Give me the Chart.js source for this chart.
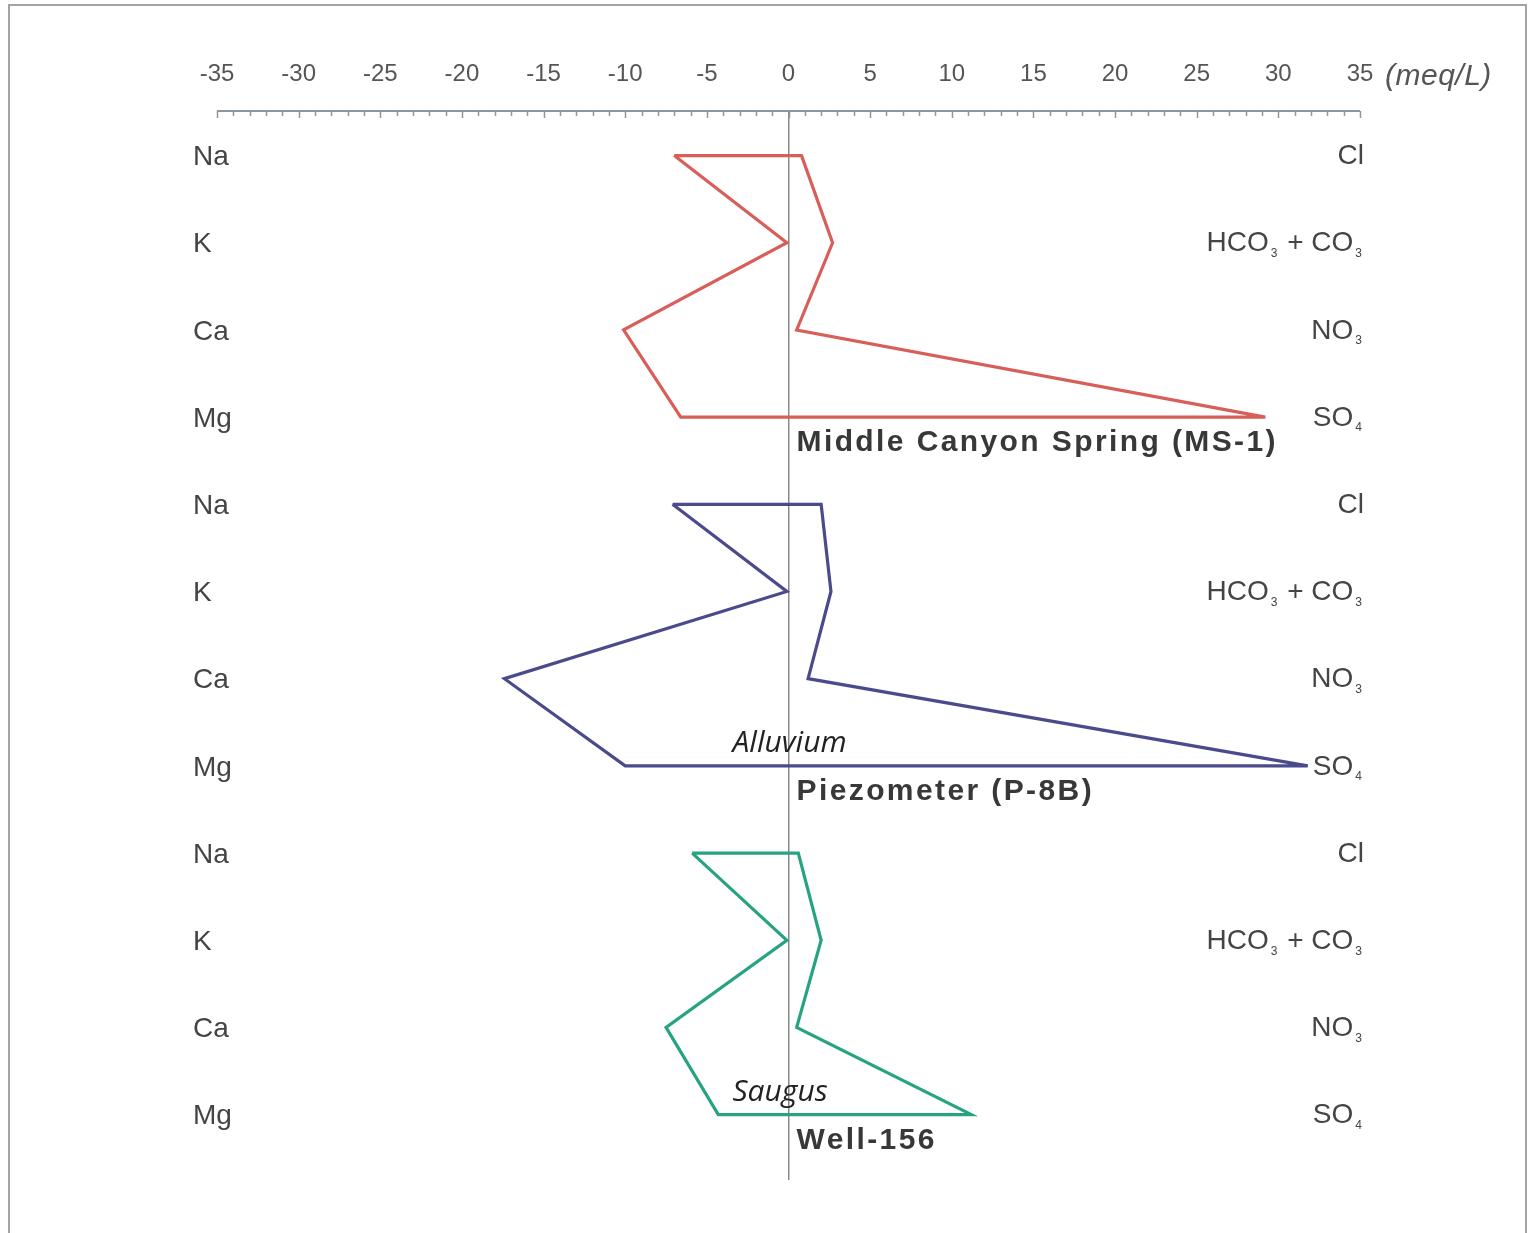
<!DOCTYPE html>
<html>
<head>
<meta charset="utf-8">
<script src="https://cdn.jsdelivr.net/npm/chart.js@4.4.0/dist/chart.umd.min.js"></script>
<style>
  html, body { margin: 0; padding: 0; background: #fff; }
</style>
</head>
<body>
<canvas id="stiffChart" width="1530" height="1233"></canvas>
<script>
// Stiff diagram data (meq/L)
const samples = ["Middle Canyon Spring (MS-1)", "Piezometer (P-8B)", "Well-156"];
const formations = ["", "Alluvium", "Saugus"];
const cations = ["Na", "K", "Ca", "Mg"];
const anions = ["Cl", "HCO3 + CO3", "NO3", "SO4"];

// cation values drawn to the left, anion values to the right
const cationValues = [
  [7.0, 0.1, 10.1, 6.6],
  [7.1, 0.1, 17.4, 10.0],
  [5.9, 0.1, 7.5, 4.3],
];
const anionValues = [
  [0.8, 2.7, 0.5, 29.2],
  [2.0, 2.6, 1.2, 31.8],
  [0.6, 2.0, 0.5, 11.2],
];

const xMin = -35, xMax = 35, majorStep = 5, minorStep = 1;
const unitLabel = "(meq/L)";
const colors = ["#d85e5a", "#4b4a8c", "#27a384"];

const FONT = "'Liberation Sans', Arial, sans-serif";

const datasets = samples.map((name, s) => {
  const base = s * cations.length;
  const pts = [];
  cations.forEach((c, i) => pts.push({ x: -cationValues[s][i], y: base + i }));
  for (let i = anions.length - 1; i >= 0; i--) {
    pts.push({ x: anionValues[s][i], y: base + i });
  }
  pts.push(pts[0]); // close polygon
  return {
    label: name,
    data: pts,
    showLine: true,
    borderColor: colors[s],
    borderWidth: 3.2,
    borderJoinStyle: "miter",
    pointRadius: 0,
    fill: false,
    tension: 0,
  };
});

// draw text where digits become subscripts (NO3, SO4 ...)
function drawChemLabel(ctx, text, xRight, y) {
  const parts = text.split(/(\d)/).filter((p) => p !== "");
  const mainFont = "28px " + FONT;
  const subFont = "12px " + FONT;
  const subGap = 2;
  let total = 0;
  parts.forEach((p) => {
    const sub = /\d/.test(p);
    ctx.font = sub ? subFont : mainFont;
    total += ctx.measureText(p).width + (sub ? subGap * 2 : 0);
  });
  let x = xRight - total;
  ctx.textAlign = "left";
  parts.forEach((p) => {
    const sub = /\d/.test(p);
    ctx.font = sub ? subFont : mainFont;
    if (sub) x += subGap;
    ctx.fillText(p, x, sub ? y + 10 : y);
    x += ctx.measureText(p).width + (sub ? subGap : 0);
  });
}

const stiffDecor = {
  id: "stiffDecor",
  beforeDraw(chart) {
    const ctx = chart.ctx;
    ctx.save();
    ctx.strokeStyle = "#a3a3a3";
    ctx.lineWidth = 2;
    ctx.strokeRect(9, 5, 1517, 1250);
    ctx.restore();
  },
  afterDraw(chart) {
    const { ctx, chartArea } = chart;
    const xs = chart.scales.x, ys = chart.scales.y;
    const x0 = xs.getPixelForValue(0);
    ctx.save();

    // top axis line with inward ticks
    ctx.strokeStyle = "#8d97a0";
    ctx.lineWidth = 2;
    ctx.beginPath();
    ctx.moveTo(xs.getPixelForValue(xMin), chartArea.top - 1);
    ctx.lineTo(xs.getPixelForValue(xMax), chartArea.top - 1);
    ctx.stroke();
    ctx.lineWidth = 1.5;
    for (let v = xMin; v <= xMax; v += minorStep) {
      const px = Math.round(xs.getPixelForValue(v)) + 0.5;
      const len = v % majorStep === 0 ? 6 : 4;
      ctx.beginPath();
      ctx.moveTo(px, chartArea.top - 1);
      ctx.lineTo(px, chartArea.top + len);
      ctx.stroke();
    }

    // unit label
    ctx.fillStyle = "#555";
    ctx.font = "italic 30px " + FONT;
    ctx.letterSpacing = "0.5px";
    ctx.textAlign = "left";
    ctx.textBaseline = "middle";
    ctx.fillText(unitLabel, xs.getPixelForValue(xMax) + 25, 77);
    ctx.letterSpacing = "0px";

    // row labels, sample names, formations
    samples.forEach((name, s) => {
      const base = s * cations.length;
      ctx.fillStyle = "#444";
      cations.forEach((c, i) => {
        ctx.font = "28px " + FONT;
        ctx.textAlign = "left";
        ctx.fillText(c, 193, ys.getPixelForValue(base + i) + 2);
      });
      anions.forEach((a, i) => {
        drawChemLabel(ctx, a, 1364, ys.getPixelForValue(base + i) + 1);
      });

      const yMg = ys.getPixelForValue(base + cations.length - 1);
      ctx.fillStyle = "#383838";
      ctx.font = "bold 30px " + FONT;
      ctx.letterSpacing = "2.4px";
      ctx.textAlign = "left";
      ctx.fillText(name, x0 + 8, yMg + 26);
      ctx.letterSpacing = "0px";

      if (formations[s]) {
        ctx.fillStyle = "#222";
        ctx.font = "italic 30px 'Open Sans', sans-serif";
        ctx.fillText(formations[s], x0 - 56, yMg - 22);
      }
    });
    ctx.restore();
  },
};

new Chart(document.getElementById("stiffChart"), {
  type: "scatter",
  data: { datasets: datasets },
  options: {
    responsive: false,
    animation: false,
    layout: { padding: { left: 217, right: 170, top: 32, bottom: 53 } },
    plugins: { legend: { display: false }, tooltip: { enabled: false } },
    scales: {
      x: {
        type: "linear",
        position: "top",
        min: xMin,
        max: xMax,
        afterFit: (s) => { s.height = 80; },
        border: { display: false },
        grid: {
          drawTicks: false,
          lineWidth: 1.5,
          color: (c) => (c.tick && c.tick.value === 0 ? "#8a8a8a" : "rgba(0,0,0,0)"),
        },
        ticks: {
          stepSize: majorStep,
          autoSkip: false,
          maxRotation: 0,
          padding: 23,
          color: "#555",
          font: { family: FONT, size: 24 },
        },
      },
      y: {
        type: "linear",
        display: false,
        reverse: true,
        min: -0.5,
        max: 11.75,
      },
    },
  },
  plugins: [stiffDecor],
});
</script>
</body>
</html>
